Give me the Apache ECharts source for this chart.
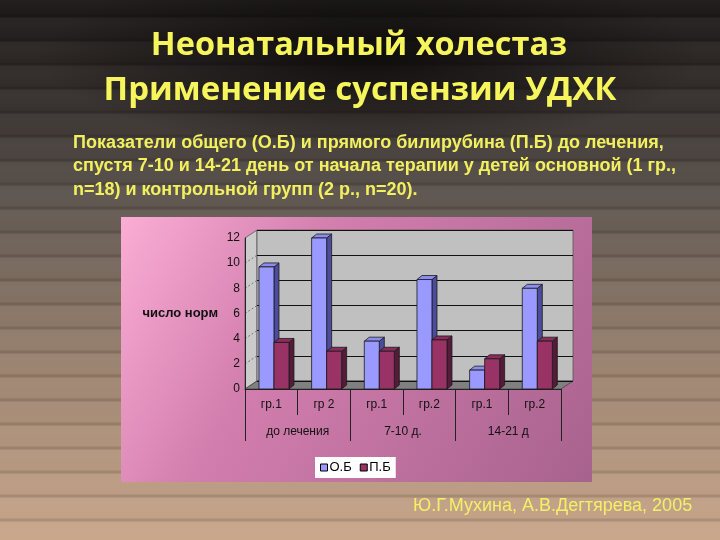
<!DOCTYPE html>
<html>
<head>
<meta charset="utf-8">
<title>Неонатальный холестаз</title>
<script src="https://cdn.jsdelivr.net/npm/echarts@6.0.0/dist/echarts.min.js"></script>
<style>
  html, body { margin: 0; padding: 0; }
  body {
    width: 720px; height: 540px; overflow: hidden;
    background:
      radial-gradient(ellipse 330px 95px at 370px 55px, rgba(12,10,9,0.9), rgba(12,10,9,0) 100%),
      repeating-linear-gradient(to bottom, rgba(255,255,255,0.04) 0px, rgba(255,255,255,0) 14px, rgba(0,0,0,0.12) 15px, rgba(0,0,0,0.12) 17px, rgba(255,255,255,0.04) 18px, rgba(255,255,255,0.04) 24px),
      linear-gradient(to bottom, #1a1716 0%, #3a3431 22%, #5e554f 37%, #9a826e 68%, #c9a68a 100%);
  }
  #chart { width: 720px; height: 540px; }
</style>
</head>
<body>
<div id="chart"></div>
<script>
// данные диаграммы
const categories = ['гр.1', 'гр 2', 'гр.1', 'гр.2', 'гр.1', 'гр.2'];
const groups = ['до лечения', '7-10 д.', '14-21 д'];
const obValues = [9.7, 12.0, 3.8, 8.7, 1.5, 8.0];
const pbValues = [3.7, 3.0, 3.0, 3.9, 2.4, 3.8];
const seriesNames = ['О.Б', 'П.Б'];

// раскладка (3D-стенки в стиле Excel)
const front = { left: 245, top: 238, width: 316, height: 151 };
const depth = { dx: 12, dy: 8 };
const back = { left: front.left + depth.dx, top: front.top - depth.dy, width: front.width, height: front.height };
const yTickValues = [0, 2, 4, 6, 8, 10, 12];

const yellow = '#f7f55c';

function bar3d(shift, colors) {
  return function (params, api) {
    const i = api.value(0);
    const v = api.value(1);
    const base = api.coord([i, 0]);
    const top = api.coord([i, v]);
    const bw = api.size([1, 0])[0];
    const w = bw * 0.285;
    const x0 = base[0] + bw * shift;
    const x1 = x0 + w;
    const dx = bw * 0.095;
    const dy = 4;
    const line = { stroke: '#1a1a1a', lineWidth: 0.8 };
    return {
      type: 'group',
      children: [
        {
          type: 'polygon',
          shape: { points: [[x1, top[1]], [x1 + dx, top[1] - dy], [x1 + dx, base[1] - dy], [x1, base[1]]] },
          style: Object.assign({ fill: colors.side }, line)
        },
        {
          type: 'polygon',
          shape: { points: [[x0, top[1]], [x0 + dx, top[1] - dy], [x1 + dx, top[1] - dy], [x1, top[1]]] },
          style: Object.assign({ fill: colors.top }, line)
        },
        {
          type: 'rect',
          shape: { x: x0, y: top[1], width: w, height: base[1] - top[1] },
          style: Object.assign({ fill: colors.front }, line)
        }
      ]
    };
  };
}

const fy = v => front.top + front.height * (1 - v / 12);
const wallDiagonals = yTickValues.filter(v => v > 0 && v < 12).map(v => ({
  type: 'line', z: -1,
  shape: { x1: front.left, y1: fy(v), x2: back.left, y2: fy(v) - depth.dy },
  style: { stroke: '#777', lineWidth: 1, lineDash: [2, 2] }
}));

const chart = echarts.init(document.getElementById('chart'), null, { renderer: 'canvas' });

chart.setOption({
  animation: false,
  backgroundColor: 'transparent',
  textStyle: { fontFamily: 'Liberation Sans, Arial, sans-serif' },
  graphic: [
    {
      type: 'text', z: 5,
      style: { text: 'Неонатальный холестаз', x: 359, y: 46, fill: yellow, font: 'bold 32.5px "Open Sans"', textAlign: 'center', textVerticalAlign: 'middle' }
    },
    {
      type: 'text', z: 5,
      style: { text: 'Применение суспензии УДХК', x: 360, y: 91, fill: yellow, font: 'bold 33px "Open Sans"', textAlign: 'center', textVerticalAlign: 'middle' }
    },
    {
      type: 'text', z: 5,
      style: {
        text: 'Показатели общего (О.Б) и прямого билирубина (П.Б) до лечения,\nспустя 7-10 и 14-21 день от начала терапии у детей основной (1 гр.,\nn=18) и контрольной групп (2 р., n=20).',
        x: 73, y: 131, fill: '#f2f05e', font: 'bold 18px "Liberation Sans"', lineHeight: 23.5, textVerticalAlign: 'top'
      }
    },
    {
      type: 'text', z: 5,
      style: { text: 'Ю.Г.Мухина, А.В.Дегтярева, 2005', x: 413, y: 506, fill: '#f4f066', font: '18px "Liberation Sans"', textVerticalAlign: 'middle' }
    },
    {
      type: 'rect', z: -3,
      shape: { x: 121, y: 217, width: 471, height: 265 },
      style: {
        fill: new echarts.graphic.LinearGradient(0, 0, 1, 1, [
          { offset: 0, color: '#fbadd4' },
          { offset: 0.35, color: '#d27eae' },
          { offset: 1, color: '#a8628e' }
        ])
      }
    },
    {
      type: 'polygon', z: -2,
      shape: { points: [[front.left, front.top], [back.left, back.top], [back.left, back.top + back.height], [front.left, front.top + front.height]] },
      style: { fill: '#cbcbcb', stroke: '#555', lineWidth: 0.8 }
    },
    {
      type: 'rect', z: -2,
      shape: { x: back.left, y: back.top, width: back.width, height: back.height },
      style: { fill: '#c0c0c0', stroke: '#555', lineWidth: 0.8 }
    },
    {
      type: 'polygon', z: -1,
      shape: { points: [[front.left, front.top + front.height], [back.left, back.top + back.height], [back.left + back.width, back.top + back.height], [front.left + front.width, front.top + front.height]] },
      style: { fill: '#808080', stroke: '#444', lineWidth: 0.8 }
    }
  ].concat(wallDiagonals),
  legend: {
    data: seriesNames,
    left: 315, top: 457,
    backgroundColor: '#ffffff',
    padding: [4, 5, 4, 5],
    icon: 'rect',
    itemWidth: 7, itemHeight: 7, itemGap: 8,
    itemStyle: { borderColor: '#000', borderWidth: 1 },
    textStyle: { fontSize: 13, color: '#000', padding: [0, 0, 0, -3] }
  },
  grid: [
    { left: back.left, top: back.top, width: back.width, height: back.height, show: false },
    { left: front.left, top: front.top, width: front.width, height: front.height, show: false }
  ],
  xAxis: [
    { gridIndex: 0, type: 'category', data: categories, show: false },
    {
      gridIndex: 1, type: 'category', data: categories, position: 'bottom',
      axisLine: { show: true, lineStyle: { color: '#222', width: 1 } },
      axisTick: { show: true, interval: 0, length: 26, lineStyle: { color: '#222' } },
      axisLabel: { interval: 0, margin: 10, fontSize: 12, color: '#111' },
      splitLine: { show: false }
    },
    {
      gridIndex: 1, type: 'category', data: groups, position: 'bottom',
      axisLine: { show: false },
      axisTick: { show: true, interval: 0, length: 52, lineStyle: { color: '#222' } },
      axisLabel: { interval: 0, margin: 37, fontSize: 12, color: '#111' },
      splitLine: { show: false }
    }
  ],
  yAxis: [
    {
      gridIndex: 0, type: 'value', min: 0, max: 12, interval: 2,
      axisLine: { show: false }, axisTick: { show: false }, axisLabel: { show: false },
      splitLine: { show: true, lineStyle: { color: '#111', width: 1 } }
    },
    {
      gridIndex: 1, type: 'value', min: 0, max: 12, interval: 2,
      axisLine: { show: true, lineStyle: { color: '#222', width: 1 } },
      axisTick: { show: false },
      axisLabel: { margin: 5, fontSize: 12, color: '#111' },
      splitLine: { show: false },
      name: 'число норм', nameLocation: 'middle', nameRotate: 0, nameGap: 27,
      nameTextStyle: { fontWeight: 'bold', fontSize: 13, color: '#111', align: 'right' }
    }
  ],
  series: [
    {
      name: seriesNames[0], type: 'custom', xAxisIndex: 1, yAxisIndex: 1,
      itemStyle: { color: '#9999ff', borderColor: '#000', borderWidth: 1 },
      renderItem: bar3d(-0.235, { front: '#9999ff', top: '#8c8cf0', side: '#4c4c9c' }),
      encode: { x: 0, y: 1 },
      data: obValues.map((v, i) => [i, v])
    },
    {
      name: seriesNames[1], type: 'custom', xAxisIndex: 1, yAxisIndex: 1,
      itemStyle: { color: '#993366', borderColor: '#000', borderWidth: 1 },
      renderItem: bar3d(0.05, { front: '#993366', top: '#8a2d5c', side: '#541c38' }),
      encode: { x: 0, y: 1 },
      data: pbValues.map((v, i) => [i, v])
    }
  ]
});
</script>
</body>
</html>
